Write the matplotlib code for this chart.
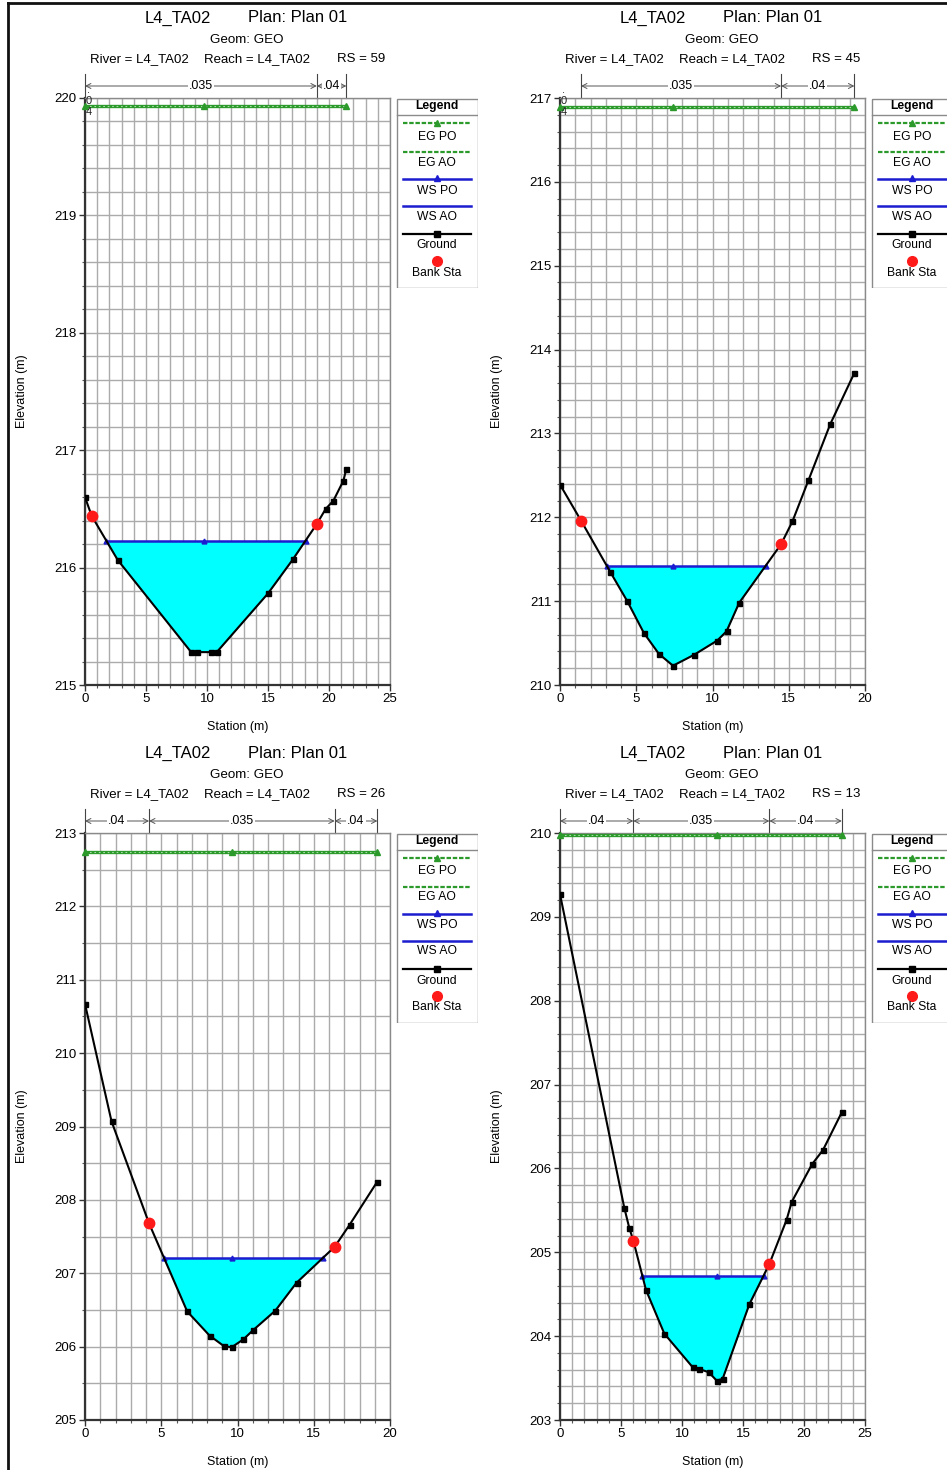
import matplotlib
matplotlib.use("Agg")
import matplotlib.pyplot as plt
import matplotlib.transforms as mtransforms
from matplotlib.lines import Line2D
from matplotlib.patches import Rectangle
import numpy as np

plt.rcParams["font.family"] = ["Liberation Sans", "DejaVu Sans"]

# ---------------------------------------------------------------- data
river = "L4_TA02"
reach = "L4_TA02"
plan = "Plan 01"
geom = "GEO"

# RS = 59
sta_59 = [0.0, 0.55, 2.68, 8.7, 9.2, 10.3, 10.8, 15.0, 17.04, 18.99, 19.73, 20.36, 21.18, 21.42]
elev_59 = [216.60, 216.44, 216.065, 215.28, 215.28, 215.28, 215.28, 215.78, 216.07, 216.37,
           216.50, 216.57, 216.74, 216.84]
bank_59 = [0.55, 18.99]
ws_59 = 216.23
eg_59 = 219.93
n_break_59 = [0.0, 19.0, 21.42]
n_val_59 = [".035", ".04"]

# RS = 45
sta_45 = [0.0, 1.38, 3.29, 4.41, 5.50, 6.49, 7.41, 8.79, 10.31, 10.92, 11.75, 14.5, 15.24,
          16.29, 17.72, 19.30]
elev_45 = [212.39, 211.96, 211.35, 211.00, 210.62, 210.37, 210.23, 210.36, 210.53, 210.64,
           210.98, 211.68, 211.95, 212.44, 213.11, 213.72]
bank_45 = [1.38, 14.5]
ws_45 = 211.42
eg_45 = 216.89
n_break_45 = [1.38, 14.5, 19.30]
n_val_45 = [".035", ".04"]

# RS = 26
sta_26 = [0.0, 1.74, 4.20, 6.70, 8.17, 9.09, 9.61, 10.39, 11.0, 12.48, 13.87, 16.37, 17.35, 19.17]
elev_26 = [210.67, 209.07, 207.68, 206.48, 206.15, 206.01, 205.99, 206.10, 206.22, 206.49,
           206.87, 207.36, 207.66, 208.25]
bank_26 = [4.20, 16.37]
ws_26 = 207.21
eg_26 = 212.74
n_break_26 = [0.0, 4.20, 16.37, 19.17]
n_val_26 = [".04", ".035", ".04"]

# RS = 13
sta_13 = [0.0, 5.27, 5.68, 6.01, 7.05, 8.55, 10.87, 11.37, 12.19, 12.84, 13.33, 15.52, 17.16,
          18.58, 18.99, 20.66, 21.56, 23.1]
elev_13 = [209.27, 205.53, 205.29, 205.14, 204.55, 204.03, 203.63, 203.61, 203.57, 203.47,
           203.49, 204.38, 204.86, 205.39, 205.60, 206.05, 206.22, 206.67]
bank_13 = [6.01, 17.16]
ws_13 = 204.72
eg_13 = 209.98
n_break_13 = [0.0, 6.01, 17.16, 23.1]
n_val_13 = [".04", ".035", ".04"]

legend_labels = ["EG PO", "EG AO", "WS PO", "WS AO", "Ground", "Bank Sta"]

# ---------------------------------------------------------------- figure
W, H = 947, 1470
fig = plt.figure(figsize=(W / 100, H / 100), dpi=100)
fig.patch.set_facecolor("white")


def fx(x):
    return x / W


def fy(y):
    return 1 - y / H


GREEN = "#2b9a2b"
BLUE = "#1c1cd0"
CYAN = "#00ffff"
GRID = "#ababab"


def ws_edges(sta, elev, ws):
    sta = np.asarray(sta)
    elev = np.asarray(elev)
    wet = np.where(elev < ws)[0]
    i, j = wet[0], wet[-1]
    xl = np.interp(ws, [elev[i], elev[i - 1]], [sta[i], sta[i - 1]])
    xr = np.interp(ws, [elev[j], elev[j + 1]], [sta[j], sta[j + 1]])
    return xl, xr


def draw_legend(left, top):
    lax = fig.add_axes([fx(left), fy(top + 190), fx(82), 190 / H])
    lax.set_xlim(0, 82)
    lax.set_ylim(190, 0)
    lax.axis("off")
    lax.add_patch(Rectangle((0.5, 0.5), 81, 189, fill=False, ec="#8a8a8a", lw=1.0))
    lax.text(41, 8, "Legend", ha="center", va="center", fontsize=8.7, fontweight="bold")
    lax.plot([0.5, 81.5], [16.5, 16.5], color="#8a8a8a", lw=1.0)
    # EG PO
    lax.plot([7, 75], [25, 25], color=GREEN, lw=1.6, ls=(0, (2, 0.8)))
    lax.plot([41], [24.5], marker="^", color=GREEN, ms=4)
    lax.text(41, 38.5, legend_labels[0], ha="center", va="center", fontsize=8.7)
    # EG AO
    lax.plot([7, 75], [53.5, 53.5], color=GREEN, lw=1.6, ls=(0, (2, 0.8)))
    lax.text(41, 64.5, legend_labels[1], ha="center", va="center", fontsize=8.7)
    # WS PO
    lax.plot([7, 75], [81, 81], color=BLUE, lw=1.8)
    lax.plot([41], [80], marker="^", color=BLUE, ms=4)
    lax.text(41, 92.5, legend_labels[2], ha="center", va="center", fontsize=8.7)
    # WS AO
    lax.plot([7, 75], [108, 108], color=BLUE, lw=1.8)
    lax.text(41, 118.5, legend_labels[3], ha="center", va="center", fontsize=8.7)
    # Ground
    lax.plot([7, 75], [136, 136], color="black", lw=1.6)
    lax.plot([41], [136], marker="s", color="black", ms=4.5)
    lax.text(41, 147.5, legend_labels[4], ha="center", va="center", fontsize=8.7)
    # Bank Sta
    lax.plot([41], [162.5], marker="o", color="#ff1a1a", ms=7, mec="#ff1a1a")
    lax.text(41, 174.5, legend_labels[5], ha="center", va="center", fontsize=8.7)


def draw_section(left, top, sta, elev, bank, ws, eg, n_break, n_val, rs,
                 xlim, ylim, ystep, stacked_n=False):
    aw, ah = 305, 587
    ax = fig.add_axes([fx(left), fy(top + ah), fx(aw), ah / H])
    sta = np.asarray(sta)
    elev = np.asarray(elev)

    ax.set_xlim(*xlim)
    ax.set_ylim(*ylim)
    ax.set_xticks(np.arange(xlim[0], xlim[1] + 0.1, 5))
    ax.set_xticks(np.arange(xlim[0], xlim[1] + 0.1, 1), minor=True)
    ax.set_yticks(np.arange(ylim[0], ylim[1] + 0.1, 1))
    ax.set_yticks(np.arange(ylim[0], ylim[1] + 1e-6, ystep), minor=True)
    ax.set_xticklabels([f"{v:g}" for v in np.arange(xlim[0], xlim[1] + 0.1, 5)])
    ax.set_yticklabels([f"{v:g}" for v in np.arange(ylim[0], ylim[1] + 0.1, 1)])
    ax.grid(which="both", color=GRID, lw=1.0)
    ax.set_axisbelow(True)
    ax.tick_params(which="major", length=4, width=1, color="#333333", labelsize=9.5, pad=2)
    ax.tick_params(which="minor", length=2.5, width=0.8, color="#555555")
    for side in ["left", "bottom"]:
        ax.spines[side].set_color("#333333")
        ax.spines[side].set_linewidth(1.6)
    for side in ["top", "right"]:
        ax.spines[side].set_color("#8a8a8a")
        ax.spines[side].set_linewidth(1.0)

    # water body
    ax.fill_between(sta, elev, ws, where=elev <= ws, interpolate=True,
                    color=CYAN, lw=0, zorder=2)
    xl, xr = ws_edges(sta, elev, ws)
    x_thalweg = sta[elev == elev.min()].mean()

    # energy grade line
    ax.plot([sta[0], sta[-1]], [eg, eg], color=GREEN, lw=2.4, zorder=3)
    ax.plot([sta[0], sta[-1]], [eg, eg], color="#a8dca8", lw=0.8,
            ls=(0, (1.5, 2.5)), zorder=3)
    ax.plot([sta[0], x_thalweg, sta[-1]], [eg] * 3, ls="none", marker="^",
            color=GREEN, ms=4, zorder=4, clip_on=False)

    # water surface
    ax.plot([xl, xr], [ws, ws], color=BLUE, lw=1.8, zorder=4)
    ax.plot([xl, x_thalweg, xr], [ws] * 3, ls="none", marker="^", color=BLUE,
            ms=3.5, zorder=4)

    # ground
    ax.plot(sta, elev, color="black", lw=1.5, marker="s", ms=3.6, zorder=5)
    ax.plot(bank, np.interp(bank, sta, elev), ls="none", marker="o", ms=7.5,
            color="#ff1a1a", mec="#ff1a1a", zorder=6)

    # Manning's n bar above the plot
    trans = mtransforms.blended_transform_factory(ax.transData, fig.transFigure)
    y_arrow = fy(top - 12)
    for b in n_break:
        ax.plot([b, b], [fy(top - 24), fy(top)], color="#444444", lw=0.8,
                transform=trans, clip_on=False)
    for a, b, lab in zip(n_break[:-1], n_break[1:], n_val):
        ax.annotate("", xy=(b, y_arrow), xytext=(a, y_arrow), xycoords=trans,
                    textcoords=trans, annotation_clip=False,
                    arrowprops=dict(arrowstyle="<->,head_length=0.35,head_width=0.18",
                                    color="#555555", lw=0.7, shrinkA=0, shrinkB=0))
        ax.text((a + b) / 2, y_arrow, lab, transform=trans, ha="center", va="center",
                fontsize=9, bbox=dict(fc="white", ec="none", pad=0.6))
    if stacked_n:
        # narrow left overbank: its n value is written vertically
        xo = 3.5 / (aw / (xlim[1] - xlim[0]))
        ax.text(xo, fy(top + 3), ".\n0\n4", transform=trans, ha="center", va="center",
                fontsize=8, linespacing=1.1, color="#222222", zorder=7)

    # headings
    fig.text(fx(left + 60), fy(top - 80), river, fontsize=12, va="center", ha="left")
    fig.text(fx(left + 163), fy(top - 80), f"Plan: {plan}", fontsize=12, va="center", ha="left")
    fig.text(fx(left + 162), fy(top - 58), f"Geom: {geom}", fontsize=9.6, va="center",
             ha="center")
    fig.text(fx(left + 5), fy(top - 39), f"River = {river}", fontsize=9.5, va="center")
    fig.text(fx(left + 119), fy(top - 39), f"Reach = {reach}", fontsize=9.5, va="center")
    fig.text(fx(left + 252), fy(top - 39), f"RS = {rs}", fontsize=9.5, va="center")

    # axis titles
    fig.text(fx(left + 153), fy(top + 629), "Station (m)", fontsize=9, ha="center",
             va="center")
    fig.text(fx(left - 63), fy(top + 293), "Elevation (m)", fontsize=9, ha="center",
             va="center", rotation=90)

    draw_legend(left + 311, top)
    return ax


draw_section(85, 98, sta_59, elev_59, bank_59, ws_59, eg_59, n_break_59, n_val_59, "59",
             (0, 25), (215, 220), 0.2, stacked_n=True)
draw_section(560, 98, sta_45, elev_45, bank_45, ws_45, eg_45, n_break_45, n_val_45, "45",
             (0, 20), (210, 217), 0.2, stacked_n=True)
draw_section(85, 833, sta_26, elev_26, bank_26, ws_26, eg_26, n_break_26, n_val_26, "26",
             (0, 20), (205, 213), 0.5)
draw_section(560, 833, sta_13, elev_13, bank_13, ws_13, eg_13, n_break_13, n_val_13, "13",
             (0, 25), (203, 210), 0.2)

# page frame (left and top edges)
fig.add_artist(Line2D([fx(8), fx(8)], [fy(3), 0], transform=fig.transFigure,
                      color="#111111", lw=2.0))
fig.add_artist(Line2D([fx(8), 1], [fy(3), fy(3)], transform=fig.transFigure,
                      color="#111111", lw=2.0))

fig.savefig("out.png", dpi=100, facecolor="white")
